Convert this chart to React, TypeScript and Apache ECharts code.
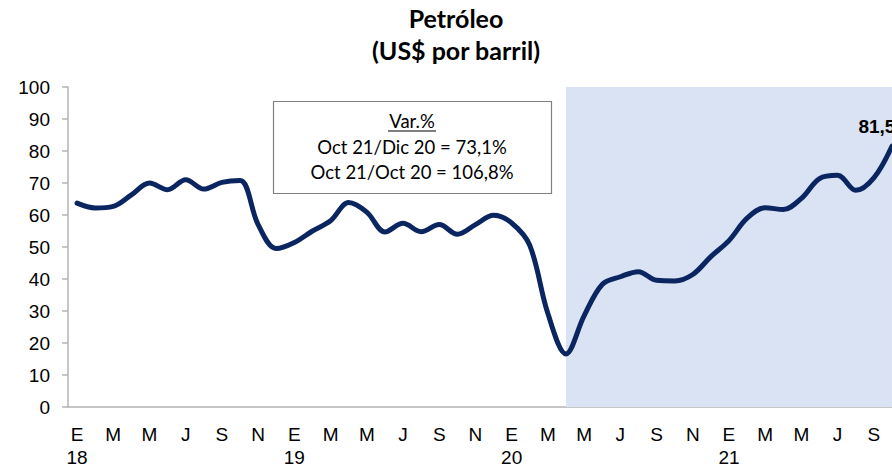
import React, { useEffect, useRef } from "react";
import * as echarts from "echarts";

const monthLetters = ["E", "F", "M", "A", "M", "J", "J", "A", "S", "O", "N", "D"];
const monthNames = ["Ene", "Feb", "Mar", "Abr", "May", "Jun", "Jul", "Ago", "Sep", "Oct", "Nov", "Dic"];
const years = ["18", "19", "20", "21"];

const values2018 = [63.7, 62.2, 62.7, 66.3, 70.0, 67.9, 71.0, 68.1, 70.2, 70.8, 57.0, 49.5];
const values2019 = [51.4, 55.0, 58.2, 63.9, 60.9, 54.7, 57.4, 54.8, 57.0, 54.0, 57.0, 59.9];
const values2020 = [57.5, 50.5, 29.2, 16.6, 28.5, 38.3, 40.7, 42.3, 39.6, 39.4, 41.4, 47.0];
const values2021 = [52.0, 59.0, 62.3, 61.7, 65.2, 71.4, 72.4, 67.7, 71.6, 81.5];

const yTicks = { min: 0, max: 100, interval: 10 };
const shadeFrom = "Abr 20";
const lastLabel = "81,5";
const boxLines = ["Var.%", "Oct 21/Dic 20 = 73,1%", "Oct 21/Oct 20 = 106,8%"];
const titleLines = ["Petróleo", "(US$ por barril)"];

const values = [...values2018, ...values2019, ...values2020, ...values2021];
const categories = values.map((_, i) => `${monthNames[i % 12]} ${years[Math.floor(i / 12)]}`);

export default function App() {
  const ref = useRef<HTMLDivElement>(null);
  useEffect(() => {
    if (!ref.current) return;
    document.body.style.margin = "0";
    const chart = echarts.init(ref.current, undefined, { renderer: "svg" });
    const lastIdx = values.length - 1;
    const calibri = "Lato, 'Open Sans', sans-serif";
    const arial = "'Liberation Sans', Arial, sans-serif";
    chart.setOption({
      animation: false,
      backgroundColor: "#ffffff",
      grid: {
        left: 68,
        top: 87,
        bottom: 62,
        width: 833,
        containLabel: false,
        outerBoundsMode: "none",
      },
      xAxis: {
        type: "category",
        data: categories,
        boundaryGap: true,
        axisLine: { show: true, lineStyle: { color: "#b3b3b3", width: 1.5 } },
        axisTick: { show: false },
        axisLabel: {
          interval: 1,
          margin: 16,
          color: "#000",
          fontFamily: arial,
          fontSize: 19,
          lineHeight: 23,
          formatter: (v: string) => {
            const idx = categories.indexOf(v);
            const letter = monthLetters[idx % 12];
            return idx % 12 === 0 ? `${letter}\n${years[Math.floor(idx / 12)]}` : letter;
          },
        },
        splitLine: { show: false },
      },
      yAxis: {
        type: "value",
        min: yTicks.min,
        max: yTicks.max,
        interval: yTicks.interval,
        axisLine: { show: true, lineStyle: { color: "#b3b3b3", width: 1.5 } },
        axisTick: { show: true, length: 6, lineStyle: { color: "#b3b3b3", width: 1.5 } },
        axisLabel: {
          margin: 18,
          color: "#000",
          fontFamily: arial,
          fontSize: 19,
        },
        splitLine: { show: false },
      },
      series: [
        {
          type: "line",
          data: values,
          smooth: 0.35,
          symbol: "none",
          showSymbol: false,
          lineStyle: { color: "#0b2560", width: 5, cap: "round", join: "round" },
          markArea: {
            silent: true,
            itemStyle: { color: "#dae3f3" },
            data: [[{ xAxis: shadeFrom }, { xAxis: categories[lastIdx] }]],
          },
          markPoint: {
            silent: true,
            symbol: "circle",
            symbolSize: 0,
            data: [
              {
                coord: [lastIdx, values[lastIdx]],
                label: {
                  show: true,
                  position: "top",
                  distance: 10,
                  offset: [-15, 0],
                  formatter: () => lastLabel,
                  fontFamily: arial,
                  fontWeight: "bold",
                  fontSize: 19,
                  color: "#000",
                },
              },
            ],
          },
          z: 3,
        },
      ],
      graphic: [
        {
          type: "group",
          children: [
            {
              type: "text",
              x: 456,
              y: 18,
              style: {
                text: titleLines[0],
                align: "center",
                verticalAlign: "middle",
                fontFamily: calibri,
                fontWeight: "bold",
                fontSize: 25,
                fill: "#000",
              },
            },
            {
              type: "text",
              x: 456,
              y: 50,
              style: {
                text: titleLines[1],
                align: "center",
                verticalAlign: "middle",
                fontFamily: calibri,
                fontWeight: "bold",
                fontSize: 25,
                fill: "#000",
              },
            },
            {
              type: "rect",
              shape: { x: 273.5, y: 101.5, width: 278, height: 92 },
              style: { fill: "#ffffff", stroke: "#808080", lineWidth: 1.2 },
              z: 10,
            },
            {
              type: "text",
              x: 412,
              y: 121,
              z: 11,
              style: {
                text: boxLines[0],
                align: "center",
                verticalAlign: "middle",
                fontFamily: calibri,
                fontSize: 18.5,
                fill: "#000",
              },
            },
            {
              type: "line",
              z: 11,
              shape: { x1: 388, y1: 131, x2: 436, y2: 131 },
              style: { stroke: "#000", lineWidth: 1 },
            },
            {
              type: "text",
              x: 412,
              y: 147,
              z: 11,
              style: {
                text: boxLines[1],
                align: "center",
                verticalAlign: "middle",
                fontFamily: calibri,
                fontSize: 18.5,
                fill: "#000",
              },
            },
            {
              type: "text",
              x: 412,
              y: 172,
              z: 11,
              style: {
                text: boxLines[2],
                align: "center",
                verticalAlign: "middle",
                fontFamily: calibri,
                fontSize: 18.5,
                fill: "#000",
              },
            },
          ],
        },
      ],
    });
    return () => chart.dispose();
  }, []);
  return <div ref={ref} style={{ width: 892, height: 469 }} />;
}
